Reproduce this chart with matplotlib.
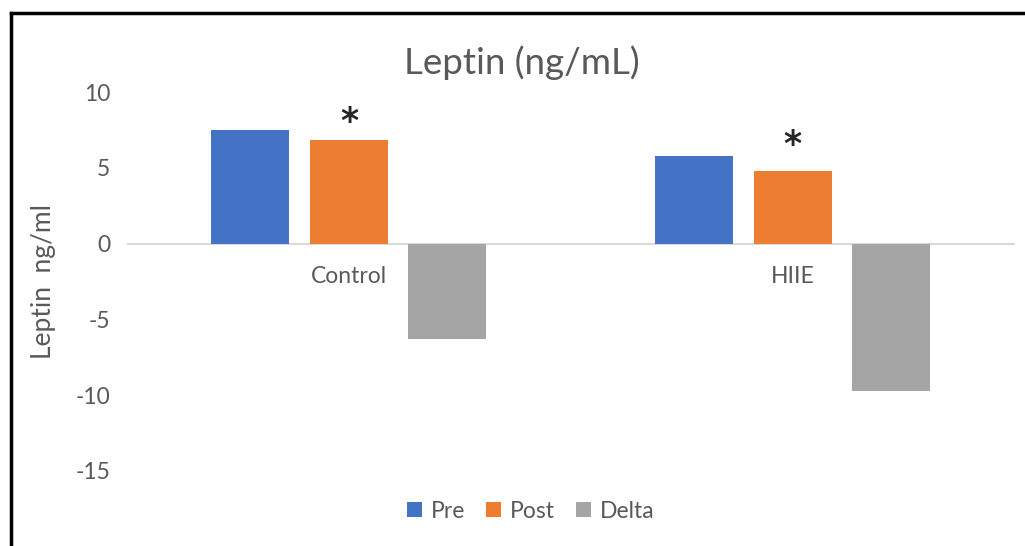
import matplotlib
matplotlib.use("Agg")
import matplotlib.pyplot as plt
from matplotlib.lines import Line2D
from matplotlib.patches import Patch
import numpy as np

categories = ["Control", "HIIE"]
series_names = ["Pre", "Post", "Delta"]
pre = [7.5, 5.75]
post = [6.85, 4.8]
delta = [-6.3, -9.7]
yticks = [10, 5, 0, -5, -10, -15]
star_y = [8.25, 6.75]   # data-level of the significance asterisks

colors = ["#4472C4", "#ED7D31", "#A5A5A5"]
text_color = "#595959"
plt.rcParams['font.family'] = ['Lato', 'DejaVu Sans']

fig = plt.figure(figsize=(10.25, 5.46), dpi=100)
ax = fig.add_axes([0.1239, 0.1374, 0.866, 0.694])

x = np.arange(len(categories))
width = 0.176
offsets = [-0.222, 0.0, 0.222]
values = [pre, post, delta]
for name, vals, off, c in zip(series_names, values, offsets, colors):
    ax.bar(x + off, vals, width=width, color=c, label=name, zorder=2)

# significance stars above Post bars
for xi, sy in zip(x, star_y):
    ax.text(xi + offsets[1], sy, "*", ha="center", va="center_baseline",
            fontsize=25, fontweight="bold", color="#262626",
            family="DejaVu Sans")

ax.set_xlim(-0.5, 1.5)
ax.set_ylim(-15, 10)
ax.set_yticks(yticks)
ax.set_yticklabels([str(t) for t in yticks], fontsize=16.5, color=text_color)
ax.tick_params(axis="y", length=0, pad=12)
ax.set_xticks([])
for s in ax.spines.values():
    s.set_visible(False)
ax.axhline(0, color="#D9D9D9", lw=1.5, zorder=1)

# category labels just below the zero line
for xi, cat in zip(x, categories):
    ax.annotate(cat, (xi, 0), xytext=(0, -24), textcoords="offset points",
                ha="center", va="center", fontsize=16.5, color=text_color)

ax.set_ylabel("Leptin  ng/ml", fontsize=19, color=text_color, labelpad=14)

fig.text(0.5095, 0.885, "Leptin (ng/mL)", ha="center", va="center",
         fontsize=26.5, color=text_color)

handles = [Patch(facecolor=c, edgecolor="none") for c in colors]
fig.legend(handles, series_names, loc="center", bbox_to_anchor=(0.518, 0.064),
           ncol=3, frameon=False, fontsize=16.5, labelcolor=text_color,
           handlelength=0.65, handleheight=0.65, handletextpad=0.4,
           columnspacing=0.9)

# outer frame (top and left edges visible)
fig.add_artist(Line2D([0.0108, 1.0], [1 - 13 / 546, 1 - 13 / 546],
                      transform=fig.transFigure, color="black", lw=2.5))
fig.add_artist(Line2D([0.0108, 0.0108], [0.0, 1 - 13 / 546],
                      transform=fig.transFigure, color="black", lw=2.5))

fig.savefig("out.png", dpi=100, facecolor="white")
